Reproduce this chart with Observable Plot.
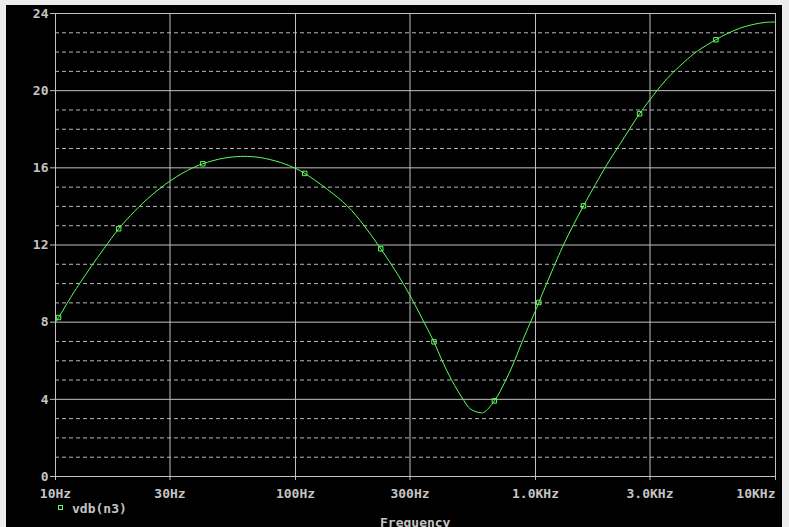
<!DOCTYPE html>
<html>
<head>
<meta charset="utf-8">
<script src="https://cdn.jsdelivr.net/npm/d3@7"></script>
<script src="https://cdn.jsdelivr.net/npm/@observablehq/plot@0.6"></script>
<style>
  html, body { margin: 0; padding: 0; background: #ececec; width: 789px; height: 527px; overflow: hidden; }
  #box { position: absolute; left: 6px; top: 5px; width: 776px; height: 522px; background: #000; overflow: hidden; }
  #inner { position: absolute; left: -6px; top: -5px; width: 789px; height: 527px; }
  #inner svg { position: absolute; left: 0; top: 0; }
  .lbl { position: absolute; font-family: "DejaVu Sans Mono", monospace; font-weight: bold; font-size: 13px; line-height: 13px; color: #c4c4c4; white-space: nowrap; }
  #legsq { position: absolute; left: 58px; top: 505px; width: 3px; height: 3px; border: 1px solid #5cff5c; }
</style>
</head>
<body>
<div id="box"><div id="inner">
  <div id="legsq"></div>
  <div class="lbl" style="left:72px;top:501.5px">vdb(n3)</div>
  <div class="lbl" style="left:380px;top:516px">Frequency</div>
</div></div>
<script>
// curve samples: frequency (Hz) and vdb(n3) (dB)
const freq = [10, 10.3, 11.74, 12.71, 14.09, 15.89, 18.34, 20.54, 24.1, 28.72, 35.4, 41.1, 50.2, 58.9, 62.9, 71.5, 86.6, 100, 109.3, 135.9, 164.5, 193, 226.7, 265.6, 305, 343, 377.6, 408, 448, 503, 534, 580, 608, 674, 749, 811, 890, 1000, 1032, 1311, 1585, 1983, 2257, 2714, 3110, 3529, 4162, 4727, 5646, 6282, 7150, 8131, 9085, 10000];
const vdb  = [8.0, 8.24, 9.41, 10.07, 10.89, 11.80, 12.84, 13.53, 14.38, 15.15, 15.86, 16.21, 16.50, 16.59, 16.59, 16.53, 16.28, 15.97, 15.71, 14.88, 14.02, 13.01, 11.80, 10.51, 9.22, 8.0, 6.98, 6.01, 4.98, 3.94, 3.51, 3.32, 3.32, 3.92, 4.95, 5.89, 7.14, 8.6, 9.02, 12.03, 14.03, 16.16, 17.26, 18.80, 19.79, 20.62, 21.48, 22.05, 22.64, 22.95, 23.25, 23.44, 23.54, 23.56];

// marker points
const markerFreq = [10.3, 18.34, 41.1, 109.3, 226.7, 377.6, 674, 1032, 1585, 2714, 5646];
const markerVdb  = [8.24, 12.84, 16.21, 15.71, 11.80, 6.98, 3.92, 9.02, 14.03, 18.80, 22.64];

// ticks
const xTicks = [10, 30, 100, 300, 1000, 3000, 10000];
const xTickLabels = ["10Hz", "30Hz", "100Hz", "300Hz", "1.0KHz", "3.0KHz", "10KHz"];
const yTicks = [0, 4, 8, 12, 16, 20, 24];
const yTickLabels = ["0", "4", "8", "12", "16", "20", "24"];
const yMinor = d3.range(0, 25).filter(v => v % 4 !== 0);

const curve = freq.map((f, i) => ({f, v: vdb[i]}));
const markers = markerFreq.map((f, i) => ({f, v: markerVdb[i]}));

const green = "#5cff5c";
const gray = "#c0c0c0";
const fmtX = d => xTickLabels[xTicks.indexOf(d)];
const fmtY = d => yTickLabels[yTicks.indexOf(d)];

const chart = Plot.plot({
  width: 789,
  height: 527,
  marginLeft: 55,
  marginRight: 14,
  marginTop: 13,
  marginBottom: 51,
  style: {background: "transparent", color: "#c4c4c4", fontFamily: "'DejaVu Sans Mono', monospace", fontSize: "13px", fontWeight: "bold", overflow: "visible"},
  x: {type: "log", domain: [10, 10000]},
  y: {domain: [0, 24]},
  marks: [
    Plot.gridY(yMinor, {stroke: "#b8b8b8", strokeOpacity: 1, strokeDasharray: "4,3"}),
    Plot.gridY(yTicks, {stroke: gray, strokeOpacity: 1}),
    Plot.gridX(xTicks, {stroke: gray, strokeOpacity: 1}),
    Plot.frame({stroke: gray}),
    Plot.axisY(yTicks, {tickSize: 5, tickPadding: 2, tickFormat: fmtY, label: null, stroke: gray}),
    Plot.axisX(xTicks.slice(0, -1), {tickSize: 4, tickPadding: 8, tickFormat: fmtX, label: null, stroke: gray}),
    Plot.axisX(xTicks.slice(-1), {tickSize: 4, tickPadding: 8, tickFormat: fmtX, label: null, stroke: gray, textAnchor: "end"}),
    Plot.line(curve, {x: "f", y: "v", stroke: green, strokeWidth: 1, curve: "catmull-rom"}),
    Plot.dot(markers, {x: "f", y: "v", symbol: "square", r: 2.5, stroke: green, fill: "none", strokeWidth: 1})
  ]
});
document.getElementById("inner").appendChild(chart);
</script>
</body>
</html>
